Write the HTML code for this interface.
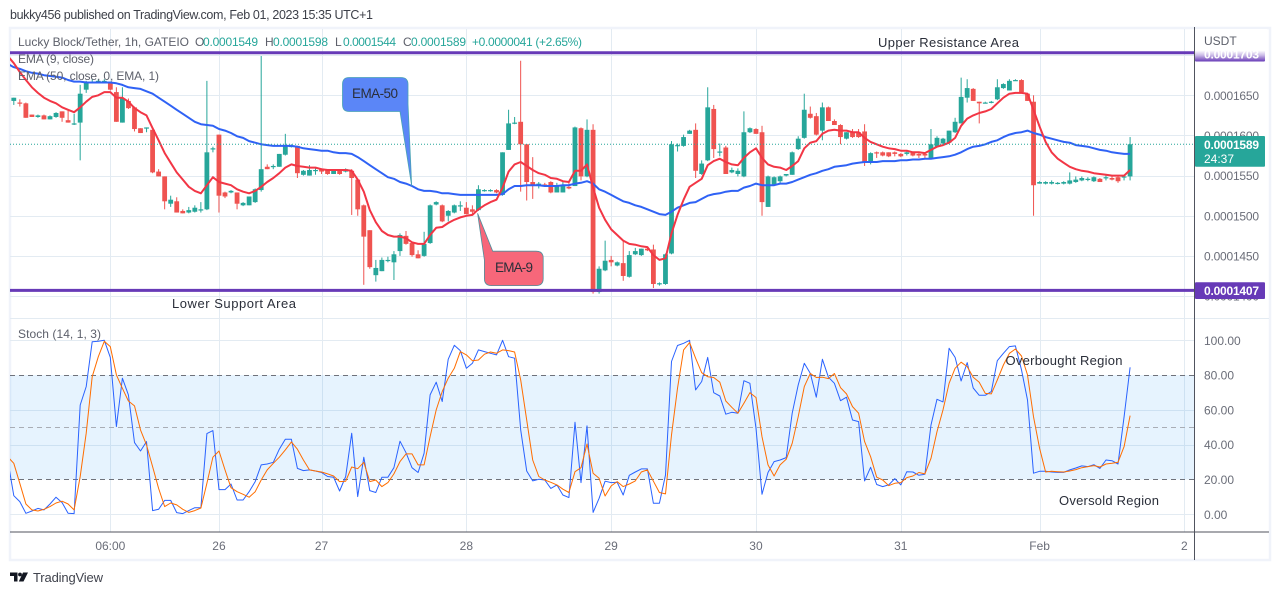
<!DOCTYPE html>
<html lang="en">
<head>
<meta charset="utf-8">
<title>Lucky Block/Tether 1h chart</title>
<style>
html,body{margin:0;padding:0;background:#fff;width:1280px;height:595px;overflow:hidden}
svg{display:block;position:absolute;left:0;top:0;font-family:"Liberation Sans",sans-serif}
text{white-space:pre}
</style>
</head>
<body>
<svg id="chart" width="1280" height="595" viewBox="0 0 1280 595">
  <defs>
    <clipPath id="pricePane"><rect x="10" y="29" width="1184" height="289"/></clipPath>
    <clipPath id="stochPane"><rect x="10" y="319" width="1184" height="213"/></clipPath>
    <linearGradient id="fadeLabel" x1="0" y1="0" x2="0" y2="1">
      <stop offset="0" stop-color="#ffffff"/><stop offset="0.45" stop-color="#c9b8e6"/><stop offset="1" stop-color="#673ab7"/>
    </linearGradient>
  </defs>

  <rect x="0" y="0" width="1280" height="595" fill="#ffffff"/>
  <text x="10" y="19" font-size="12.5" fill="#3c3f48" textLength="363" lengthAdjust="spacing">bukky456 published on TradingView.com, Feb 01, 2023 15:35 UTC+1</text>

  <rect x="10" y="28" width="1260" height="532" fill="none" stroke="#f0f3fa" stroke-width="2.5"/>

  <g id="grid"></g>
  <g id="stochBand"></g>
  <g id="candles" clip-path="url(#pricePane)"></g>
  <g id="lines" clip-path="url(#pricePane)"></g>
  <g id="stochLines" clip-path="url(#stochPane)"></g>
  <g id="levels"></g>

  <g font-size="12">
    <text x="18" y="46" fill="#5d606b" textLength="171" lengthAdjust="spacing">Lucky Block/Tether, 1h, GATEIO</text>
    <text x="195" y="46" fill="#5d606b">O</text>
    <text x="203" y="46" fill="#26a69a" textLength="55" lengthAdjust="spacing">0.0001549</text>
    <text x="265" y="46" fill="#5d606b">H</text>
    <text x="273" y="46" fill="#26a69a" textLength="55" lengthAdjust="spacing">0.0001598</text>
    <text x="335" y="46" fill="#5d606b">L</text>
    <text x="343" y="46" fill="#26a69a" textLength="53" lengthAdjust="spacing">0.0001544</text>
    <text x="403" y="46" fill="#5d606b">C</text>
    <text x="411" y="46" fill="#26a69a" textLength="55" lengthAdjust="spacing">0.0001589</text>
    <text x="472" y="46" fill="#26a69a" textLength="110" lengthAdjust="spacing">+0.0000041 (+2.65%)</text>
    <text x="18" y="63" fill="#5d606b" textLength="76" lengthAdjust="spacing">EMA (9, close)</text>
    <text x="18" y="80" fill="#5d606b" textLength="141" lengthAdjust="spacing">EMA (50, close, 0, EMA, 1)</text>
    <text x="18" y="338" fill="#5d606b" textLength="83" lengthAdjust="spacing">Stoch (14, 1, 3)</text>
  </g>

  <g font-size="13" fill="#2a2e39">
    <text x="878" y="47" textLength="141" lengthAdjust="spacing">Upper Resistance Area</text>
    <text x="172" y="308" textLength="124" lengthAdjust="spacing">Lower Support Area</text>
    <text x="1005.5" y="365" textLength="117" lengthAdjust="spacing">Overbought Region</text>
    <text x="1059" y="505" textLength="100" lengthAdjust="spacing">Oversold Region</text>
  </g>

  <g>
    <path d="M349 77.5H401Q408 77.5 408 84.5V104L411.7 186L400 111.5H349Q342.5 111.5 342.5 104.5V84.5Q342.5 77.5 349 77.5Z" fill="#5b86f7" stroke="#4aa3b5" stroke-width="0.8"/>
    <text x="352" y="98" font-size="13.5" fill="#2a2e39" textLength="46" lengthAdjust="spacing">EMA-50</text>
  </g>
  <g>
    <path d="M492.7 251.2H536Q543.2 251.2 543.2 258V278.5Q543.2 285.6 536 285.6H491.5Q484.4 285.6 484.4 278.5V260L477.6 213.3Z" fill="#f7677a" stroke="#4f8f9c" stroke-width="0.8"/>
    <text x="495" y="272" font-size="13.5" fill="#2a2e39" textLength="38" lengthAdjust="spacing">EMA-9</text>
  </g>

  <line x1="1194.5" y1="27" x2="1194.5" y2="560" stroke="#50535e" stroke-width="1"/>
  <line x1="10" y1="532" x2="1269" y2="532" stroke="#50535e" stroke-width="1"/>
  <g id="axisLabels"></g>

  <rect x="1195" y="29" width="72" height="21" fill="#ffffff"/>
  <text x="1204" y="45" font-size="12" fill="#5d606b">USDT</text>
  <rect x="1195" y="50.5" width="70" height="11" rx="1" fill="url(#fadeLabel)"/>
  <text x="1204" y="58.5" font-size="12" font-weight="bold" fill="#ffffff" textLength="55" lengthAdjust="spacing">0.0001703</text>
  <rect x="1195" y="282.3" width="70" height="16.7" rx="1" fill="#673ab7"/>
  <text x="1204" y="295" font-size="12" font-weight="bold" fill="#ffffff" textLength="55" lengthAdjust="spacing">0.0001407</text>
  <rect x="1195" y="136" width="70" height="30.7" rx="1" fill="#26a69a"/>
  <text x="1204" y="149" font-size="12" font-weight="bold" fill="#ffffff" textLength="55" lengthAdjust="spacing">0.0001589</text>
  <text x="1204" y="163" font-size="12" fill="#ffffff" textLength="30" lengthAdjust="spacing">24:37</text>

  <g>
    <path d="M10 572.5H17.5V581.5H14V576H10Z" fill="#131722"/>
    <circle cx="20" cy="574.5" r="1.9" fill="#131722"/>
    <path d="M23 572.5H28L23.5 581.5H18.8Z" fill="#131722"/>
    <text x="33" y="582" font-size="13" fill="#40434d" textLength="70" lengthAdjust="spacing">TradingView</text>
  </g>
</svg>

<script>
// Prices are in units of 0.0000001 USDT. Index = hourly bar.
const opens = [
1643,1641,1640,1626,1623,1625,1620,1623,1630,1619,
1614,1616,1657,1666,1667,1667,1666,1654,1616,1643,
1635,1609,1609,1607,1555,1549,1515,1518,1506,1504,
1505,1507,1508,1583,1601,1529,1529,1529,1513,1513,
1517,1532,1561,1561,1561,1576,1586,1587,1551,1550,
1556,1558,1557,1552,1557,1555,1556,1545,1513,1482,
1426,1431,1444,1442,1456,1475,1466,1452,1450,1466,
1514,1513,1500,1504,1512,1510,1508,1507,1531,1531,
1532,1526,1582,1615,1617,1589,1542,1539,1539,1542,
1529,1529,1536,1537,1609,1549,1607,1405,1432,1445,
1438,1441,1424,1452,1451,1459,1458,1415,1415,1453,
1587,1587,1602,1607,1552,1569,1633,1579,1585,1554,
1552,1549,1604,1608,1604,1511,1539,1543,1550,1551,
1583,1597,1627,1624,1606,1635,1618,1613,1596,1604,
1604,1605,1566,1579,1579,1579,1579,1577,1577,1579,
1577,1577,1572,1586,1590,1591,1604,1615,1647,1658,
1642,1640,1641,1645,1659,1656,1668,1669,1652,1642,
1540,1540,1540,1540,1540,1540,1542,1544,1545,1543,
1546,1547,1547,1548,1548,1549];
const highs = [
1647,1645,1641,1626,1626,1626,1625,1629,1630,1631,
1627,1663,1668,1670,1670,1670,1667,1660,1660,1646,
1636,1609,1610,1607,1558,1549,1525,1523,1508,1511,
1513,1517,1668,1586,1601,1530,1532,1529,1517,1524,
1534,1699,1564,1564,1577,1602,1589,1587,1557,1563,
1559,1559,1558,1557,1558,1559,1558,1546,1514,1482,
1445,1448,1449,1456,1478,1481,1466,1457,1480,1514,
1518,1514,1507,1514,1518,1517,1513,1538,1533,1533,
1533,1579,1632,1623,1693,1589,1573,1542,1541,1543,
1541,1542,1541,1611,1610,1620,1614,1437,1469,1450,
1443,1468,1456,1460,1459,1460,1464,1417,1453,1593,
1590,1601,1607,1615,1569,1660,1638,1590,1587,1560,
1559,1630,1610,1609,1612,1550,1549,1550,1552,1580,
1599,1652,1636,1628,1641,1636,1620,1614,1604,1608,
1608,1614,1579,1580,1580,1579,1580,1578,1581,1580,
1578,1578,1608,1599,1597,1606,1622,1672,1670,1659,
1642,1642,1643,1670,1665,1670,1670,1670,1653,1650,
1543,1543,1544,1542,1543,1554,1549,1549,1548,1549,
1547,1551,1550,1550,1550,1598];
const lows = [
1638,1636,1622,1623,1622,1620,1620,1622,1617,1616,
1613,1569,1653,1665,1666,1666,1656,1617,1616,1633,
1605,1603,1604,1553,1549,1508,1511,1504,1503,1503,
1504,1504,1507,1579,1504,1522,1528,1508,1512,1513,
1516,1530,1558,1558,1561,1575,1585,1547,1550,1550,
1551,1552,1551,1552,1551,1554,1501,1500,1414,1434,
1418,1431,1442,1420,1450,1464,1449,1447,1449,1465,
1513,1492,1493,1503,1506,1502,1502,1506,1530,1530,
1528,1525,1582,1614,1530,1519,1521,1534,1536,1528,
1529,1529,1533,1537,1544,1548,1403,1403,1431,1437,
1437,1419,1423,1451,1450,1456,1410,1413,1414,1452,
1580,1586,1602,1547,1551,1568,1572,1574,1552,1553,
1549,1548,1603,1602,1500,1511,1537,1540,1549,1551,
1582,1596,1621,1600,1594,1618,1613,1589,1595,1597,
1597,1562,1564,1572,1574,1573,1574,1573,1575,1574,
1572,1572,1571,1585,1589,1590,1603,1615,1641,1643,
1615,1640,1640,1644,1658,1656,1668,1654,1643,1500,
1540,1539,1539,1539,1539,1539,1541,1543,1543,1542,
1542,1544,1544,1541,1544,1544];
const closes = [
1647,1640,1622,1623,1625,1620,1624,1628,1622,1616,
1615,1652,1666,1667,1668,1668,1657,1617,1646,1634,
1608,1603,1610,1554,1549,1518,1520,1504,1503,1507,
1510,1508,1579,1584,1525,1524,1531,1515,1516,1524,
1533,1558,1558,1562,1577,1587,1587,1553,1556,1557,
1557,1555,1552,1556,1552,1558,1547,1508,1474,1436,
1435,1445,1445,1452,1476,1465,1451,1447,1465,1513,
1517,1493,1506,1513,1513,1502,1505,1533,1532,1532,
1529,1579,1615,1616,1589,1542,1537,1540,1537,1529,
1537,1537,1534,1610,1549,1607,1405,1434,1444,1442,
1442,1425,1451,1456,1459,1457,1415,1416,1452,1589,
1588,1598,1606,1556,1565,1635,1583,1580,1552,1557,
1556,1604,1609,1602,1517,1549,1548,1549,1552,1579,
1596,1632,1622,1601,1635,1618,1613,1598,1604,1598,
1598,1567,1578,1578,1575,1574,1577,1574,1579,1575,
1575,1575,1589,1597,1596,1606,1617,1648,1659,1643,
1640,1641,1642,1660,1664,1668,1669,1654,1643,1538,
1542,1542,1542,1541,1542,1544,1545,1547,1546,1548,
1542,1548,1545,1543,1549,1589];
const ema9 = [
1690,1679,1669,1660,1653,1647,1643,1640,1635,1632,
1629,1635,1642,1648,1650,1654,1654,1647,1647,1642,
1634,1629,1625,1609,1594,1578,1566,1554,1545,1536,
1531,1528,1538,1548,1542,1540,1538,1533,1530,1528,
1531,1536,1542,1547,1553,1560,1564,1562,1561,1560,
1560,1558,1557,1557,1557,1557,1556,1545,1530,1507,
1492,1481,1476,1474,1474,1472,1467,1465,1465,1476,
1485,1486,1491,1495,1498,1500,1501,1508,1513,1517,
1520,1535,1555,1564,1567,1562,1557,1553,1551,1547,
1546,1543,1542,1556,1556,1564,1535,1510,1495,1483,
1476,1469,1465,1464,1462,1461,1451,1445,1447,1478,
1501,1520,1536,1541,1546,1563,1568,1571,1567,1564,
1563,1572,1579,1584,1572,1564,1561,1560,1557,1562,
1568,1584,1591,1593,1602,1606,1607,1606,1606,1604,
1604,1597,1592,1589,1586,1584,1583,1581,1581,1579,
1579,1578,1582,1586,1588,1591,1597,1612,1621,1625,
1628,1630,1633,1640,1647,1652,1653,1653,1652,1632,
1611,1592,1579,1571,1566,1561,1558,1556,1555,1553,
1552,1551,1550,1550,1550,1557];
const ema50 = [
1685,1683,1680,1678,1677,1675,1674,1673,1672,1669,
1667,1667,1666,1666,1666,1666,1666,1665,1663,1660,
1659,1658,1655,1652,1647,1642,1637,1632,1627,1622,
1617,1614,1613,1612,1608,1606,1603,1599,1597,1593,
1591,1589,1588,1587,1587,1587,1587,1586,1584,1583,
1582,1581,1581,1579,1578,1578,1577,1573,1568,1563,
1558,1553,1548,1546,1542,1540,1537,1533,1531,1531,
1530,1528,1528,1527,1526,1526,1526,1526,1526,1526,
1526,1527,1533,1537,1537,1538,1538,1538,1537,1537,
1537,1538,1538,1540,1541,1543,1540,1533,1530,1526,
1522,1518,1516,1513,1511,1508,1505,1502,1501,1505,
1510,1513,1516,1517,1521,1525,1527,1528,1530,1531,
1531,1535,1537,1540,1538,1538,1538,1540,1540,1542,
1545,1548,1551,1553,1556,1558,1561,1562,1563,1565,
1566,1567,1567,1567,1568,1568,1568,1569,1569,1570,
1570,1571,1571,1572,1573,1574,1576,1579,1583,1586,
1587,1589,1592,1594,1598,1601,1603,1604,1606,1603,
1601,1598,1596,1594,1592,1591,1588,1587,1586,1584,
1582,1581,1579,1578,1577,1577];
const stochK = [
10.7,7.3,.6,1.9,3.4,2.5,5.9,9.8,6.7,.6,
.4,62.8,73.4,99.2,99.4,100,90.2,50.4,78.2,68.6,
41.2,36.4,41.8,2.1,2.9,8,8,1,.4,2.1,
3.8,3.8,46.4,48.1,14.2,14.2,17.4,8.2,8.2,13,
18.8,28.4,28.9,29.9,37.4,43.1,43.1,26.4,25.1,25.5,
24.9,24,21.7,21.3,13.4,21.7,46.6,10.2,32.8,13.6,
12.5,21.3,21.3,26.8,42,35.4,26.8,24,35.1,68.6,
75.9,64.8,89.1,97.1,94.1,83.9,86.8,94.5,93.5,92.5,
91.6,100,90.6,89.7,48.5,24.9,19.2,20.1,19.7,14.9,
16.9,11.1,9.6,52.9,18.2,50.8,1.1,9.2,19,18.2,
18.4,11.1,22.4,24.3,26.1,26.1,6.3,6.3,22.6,87.8,
97,98.3,100,71.5,76.3,90.2,69.9,68,57.5,58.6,
58.1,76.8,75.3,49.4,11.5,24,30.3,31.2,32.6,58.1,
74.3,86.8,81,67.3,89.1,78.8,75.3,65.3,67.3,54.2,
53.3,19.2,27,17.1,15.9,16.9,20.5,16.9,24.5,24.3,
22.4,23,51.3,66.1,64.6,95.4,90.2,76.6,87.2,72.6,
68.4,68.4,70.5,88.3,92.5,96.4,96.8,83,65.7,23.6,
24.7,24.7,24.3,24.1,24.1,25.5,26.6,27.8,27.4,28.5,
26.4,31.2,30.8,28.9,56.1,84.5];
const stochD = [
29.3,17.8,5.9,2.5,1.9,2.9,4.4,6.5,7.5,5.9,
2.5,21.7,46.6,79.1,90.6,99.4,96.4,80.1,72.4,65.1,
62.3,48.5,39.9,27.4,14.9,4.4,6.5,5.4,2.9,1.1,
2.1,3.6,17.8,32.8,36.4,25.5,15.3,13,11.5,9.8,
13,19.7,25.5,29.3,32.8,37,41.6,37.4,31.2,25.5,
24.9,24.3,23.2,22,18.8,19,27.2,26.2,29.9,18.8,
19.7,15.9,18.2,23.2,30.3,34.7,34.7,28.4,28.4,44.6,
60,70.5,78.2,83.9,93.5,91.6,88.3,88.7,92,93.3,
92.5,94.5,94.1,93.3,77.2,54.2,31.2,21.7,19.7,18.4,
16.9,14.4,12.5,24.5,26.8,40.4,23.6,20.7,10.5,16.3,
18.8,15.9,17.4,19.2,24.3,25.5,19,12.5,11.7,45.6,
72.4,94.5,98.7,89.7,81.4,79.1,78.6,75.9,65.1,61.5,
58.1,63.8,69.9,67.1,44.6,28.4,22,28.4,31.6,40.8,
56.1,73.4,81,78.6,78.8,78,80.9,72.8,69.2,61.9,
58.1,41.8,33.1,21.3,19.7,16.5,17.8,18.2,21.1,22,
24,23.2,32.2,47.5,60,75.3,83.9,87.4,84.9,78.8,
75.9,69.5,69.2,77.2,85.8,92.5,95,91,80.1,56.1,
37.9,24.3,24.7,24.5,24.3,24.9,25.7,26.8,27.4,28,
27.2,28.9,29.3,29.9,38.9,56.7];
// Value of each line on the bar just off the left edge (bar -1), so lines reach the pane edge.
const ema9Prior = 1699;
const ema50Prior = 1689;
const stochKPrior = 31;
const stochDPrior = 33;
const priceTicks = [1700,1650,1600,1550,1500,1450,1400];
const priceTickLabels = ['0.0001700','0.0001650','0.0001600','0.0001550','0.0001500','0.0001450','0.0001400'];
const stochGridTicks = [100,60,40,0];
const stochTicks = [100,80,60,40,20,0];
const stochTickLabels = ['100.00','80.00','60.00','40.00','20.00','0.00'];
const stochDashed = [80,50,20];
const timeTickBars = [16,34,51,75,99,123,147,170,194];
const timeTickLabels = ['06:00','26','27','28','29','30','31','Feb','2'];
const resistanceLevel = 1703;
const supportLevel = 1407;
const lastClose = 1589;

const NS = 'http://www.w3.org/2000/svg';
function xBar(i){ return 13.8 + 6.034 * i; }
function yPrice(p){ return 95.3 + (1650 - p) * 0.80302; }
function yStoch(v){ return 514.3 - v * 1.74; }
function make(parent, tag, attrs){
  const el = document.createElementNS(NS, tag);
  for (const k in attrs) el.setAttribute(k, attrs[k]);
  parent.appendChild(el);
  return el;
}
const grid = document.getElementById('grid');
const band = document.getElementById('stochBand');
const candleLayer = document.getElementById('candles');
const lineLayer = document.getElementById('lines');
const stochLayer = document.getElementById('stochLines');
const levelLayer = document.getElementById('levels');
const axisLayer = document.getElementById('axisLabels');

// grid
timeTickBars.forEach(function(b){
  const x = Math.round(xBar(b)) + 0.5;
  const l = make(grid, 'line', {x1:x, x2:x, y1:29, y2:532, stroke:'#e3ebf2', 'stroke-width':1});
  
  
});
priceTicks.forEach(function(p){
  const y = Math.round(yPrice(p)) + 0.5;
  const l = make(grid, 'line', {x1:10, x2:1194, y1:y, y2:y, stroke:'#e3ebf2', 'stroke-width':1});
  
  
});
stochGridTicks.forEach(function(v){
  const y = Math.round(yStoch(v)) + 0.5;
  const l = make(grid, 'line', {x1:10, x2:1194, y1:y, y2:y, stroke:'#e3ebf2', 'stroke-width':1});
  
  
});
const sep = make(grid, 'line', {x1:10, x2:1269, y1:318.5, y2:318.5, stroke:'#e3ebf2', 'stroke-width':1});



// stochastic band
const bandRect = make(band, 'rect', {x:10, width:1184, y:yStoch(80), height:yStoch(20)-yStoch(80), fill:'#2196f3', 'fill-opacity':0.115});


stochDashed.forEach(function(v){
  const y = Math.round(yStoch(v)) + 0.5;
  const l = make(band, 'line', {x1:10, x2:1194, y1:y, y2:y, stroke: v === 50 ? '#a9adb5' : '#6f727b', 'stroke-width':1, 'stroke-dasharray':'5 4'});
  
  
});

// candles
opens.forEach(function(o, i){
  const c = closes[i];
  const col = c >= o ? '#26a69a' : '#ef5350';
  const x = xBar(i);
  const wick = make(candleLayer, 'line', {x1:x, x2:x, y1:yPrice(highs[i]), y2:yPrice(lows[i]), stroke:col, 'stroke-width':1});
  
  
  const top = yPrice(Math.max(o, c));
  const h = Math.max(1.2, Math.abs(yPrice(o) - yPrice(c)));
  const body = make(candleLayer, 'rect', {x:x - 2.4, y:top, width:4.8, height:h, fill:col});
  
  
});

function linePath(values, prior, yFn){
  const start = 'M' + xBar(-1).toFixed(1) + ' ' + yFn(prior).toFixed(1);
  return start + values.map(function(v, i){ return 'L' + xBar(i).toFixed(1) + ' ' + yFn(v).toFixed(1); }).join('');
}
const ema50Line = make(lineLayer, 'path', {d:linePath(ema50, ema50Prior, yPrice), fill:'none', stroke:'#2f62f5', 'stroke-width':2, 'stroke-linejoin':'round'});


const ema9Line = make(lineLayer, 'path', {d:linePath(ema9, ema9Prior, yPrice), fill:'none', stroke:'#f23645', 'stroke-width':2, 'stroke-linejoin':'round'});


const kLine = make(stochLayer, 'path', {d:linePath(stochK, stochKPrior, yStoch), fill:'none', stroke:'#2962ff', 'stroke-width':1, 'stroke-linejoin':'round'});


const dLine = make(stochLayer, 'path', {d:linePath(stochD, stochDPrior, yStoch), fill:'none', stroke:'#ff6d00', 'stroke-width':1, 'stroke-linejoin':'round'});



// levels
const lastLine = make(levelLayer, 'line', {x1:10, x2:1194, y1:yPrice(lastClose), y2:yPrice(lastClose), stroke:'#26a69a', 'stroke-width':1, 'stroke-dasharray':'1 2'});


const resLine = make(levelLayer, 'line', {x1:10, x2:1195, y1:yPrice(resistanceLevel), y2:yPrice(resistanceLevel), stroke:'#673ab7', 'stroke-width':3});


const supLine = make(levelLayer, 'line', {x1:10, x2:1195, y1:yPrice(supportLevel), y2:yPrice(supportLevel), stroke:'#673ab7', 'stroke-width':3});



// axis labels
priceTicks.forEach(function(p, i){
  const t = make(axisLayer, 'text', {x:1204, y:yPrice(p) + 4.5, 'font-size':12, fill:'#6a6d78', textLength:55, lengthAdjust:'spacing'});
  
  
  t.textContent = priceTickLabels[i];
});
stochTicks.forEach(function(v, i){
  const t = make(axisLayer, 'text', {x:1204, y:yStoch(v) + 4.5, 'font-size':12, fill:'#6a6d78'});
  
  
  t.textContent = stochTickLabels[i];
});
timeTickBars.forEach(function(b, i){
  const t = make(axisLayer, 'text', {x:xBar(b), y:550, 'font-size':12, fill:'#6a6d78', 'text-anchor':'middle'});
  
  
  t.textContent = timeTickLabels[i];
});
</script>
</body>
</html>
